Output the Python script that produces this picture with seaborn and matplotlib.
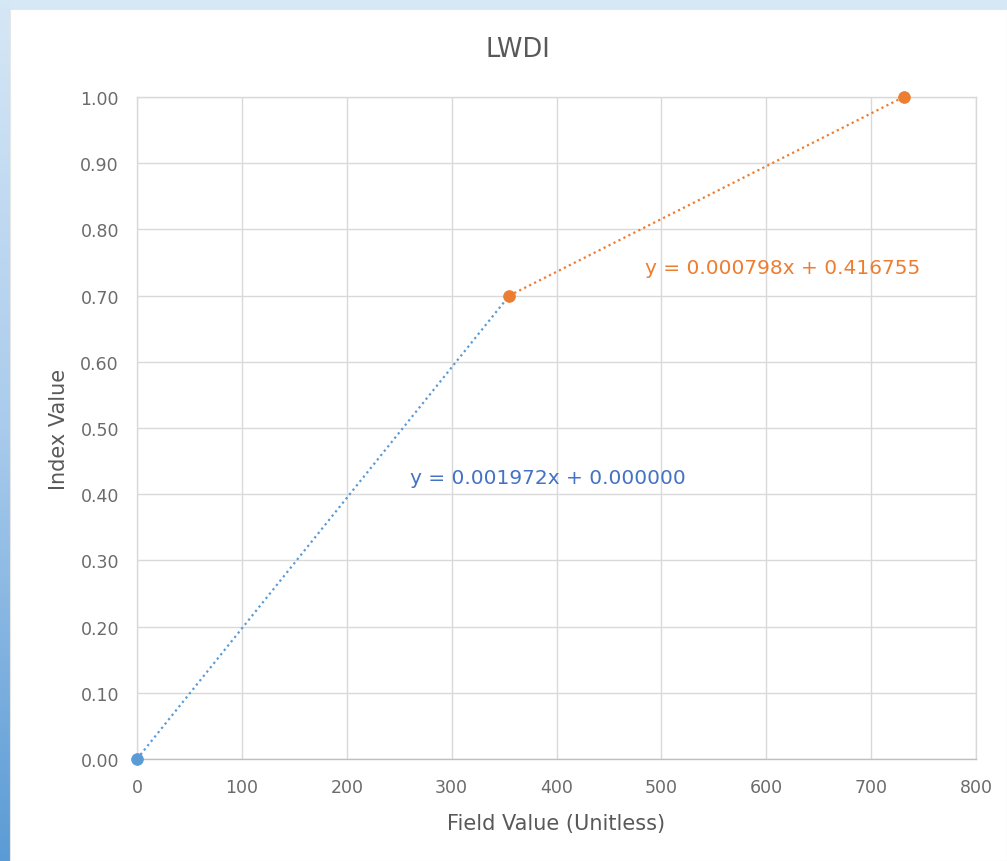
import numpy as np
import pandas as pd
import seaborn as sns
import matplotlib.pyplot as plt
from matplotlib.patches import Rectangle
from matplotlib.colors import LinearSegmentedColormap

# Breakpoints of the piecewise-linear LWDI index
seg1_field = [0, 355]
seg1_index = [0.00, 0.70]
seg2_field = [355, 731]
seg2_index = [0.70, 1.00]

eq1_label = "y = 0.001972x + 0.000000"
eq2_label = "y = 0.000798x + 0.416755"

x_ticks = [0, 100, 200, 300, 400, 500, 600, 700, 800]
y_ticks = [0.00, 0.10, 0.20, 0.30, 0.40, 0.50, 0.60, 0.70, 0.80, 0.90, 1.00]

BLUE = "#5b9bd5"
BLUE_TEXT = "#4472c4"
ORANGE = "#ed7d31"
GREY_TEXT = "#595959"
TICK_TEXT = "#6b6b6b"

sns.set_theme(style="white")
plt.rcParams["font.family"] = ["DejaVu Sans"]

W, H = 1007, 862
fig = plt.figure(figsize=(W / 100, H / 100), dpi=100)
fig.patch.set_facecolor("#d6e7f6")

# Frame: left gradient strip plus white chart card
bg = fig.add_axes([0, 0, 1, 1], zorder=-5)
bg.set_axis_off()
cmap = LinearSegmentedColormap.from_list("edge", ["#d6e7f6", "#a9cbec", "#5b9bd5"])
grad = np.linspace(0, 1, 256).reshape(-1, 1)
bg.imshow(grad, aspect="auto", cmap=cmap, extent=[0, 10, H, 0], origin="upper")
bg.add_patch(Rectangle((10, 10), W - 10, H - 10, facecolor="white",
                       edgecolor="#e6e6e6", lw=0.8))
bg.set_xlim(0, W)
bg.set_ylim(H, 0)

ax = fig.add_axes([137 / W, 1 - 760 / H, (976 - 137) / W, (760 - 98) / H], zorder=1)
ax.set_facecolor("white")

df1 = pd.DataFrame({"field": seg1_field, "index": seg1_index})
df2 = pd.DataFrame({"field": seg2_field, "index": seg2_index})

sns.lineplot(data=df1, x="field", y="index", ax=ax, color=BLUE, lw=1.6,
             linestyle=(0, (1, 1.5)), zorder=3)
sns.lineplot(data=df2, x="field", y="index", ax=ax, color=ORANGE, lw=1.6,
             linestyle=(0, (1, 1.5)), zorder=3)
sns.scatterplot(x=seg1_field[:1], y=seg1_index[:1], ax=ax, color=BLUE, s=70,
                edgecolor=BLUE, zorder=4, clip_on=False)
sns.scatterplot(x=seg2_field, y=seg2_index, ax=ax, color=ORANGE, s=70,
                edgecolor=ORANGE, zorder=4, clip_on=False)

ax.set_xlim(0, 800)
ax.set_ylim(0, 1.0)
ax.set_xticks(x_ticks)
ax.set_yticks(y_ticks)
ax.set_xticklabels([str(t) for t in x_ticks])
ax.set_yticklabels([f"{t:.2f}" for t in y_ticks])
ax.grid(True, color="#d9d9d9", lw=1.0)
ax.set_axisbelow(True)
for side in ["top", "right", "left"]:
    ax.spines[side].set_visible(True)
    ax.spines[side].set_color("#d9d9d9")
    ax.spines[side].set_linewidth(1.0)
ax.spines["bottom"].set_color("#bfbfbf")
ax.spines["bottom"].set_linewidth(1.0)
ax.tick_params(axis="x", length=0, labelsize=12.5, colors=TICK_TEXT, pad=14)
ax.tick_params(axis="y", length=0, labelsize=12.5, colors=TICK_TEXT, pad=13)

ax.set_xlabel("Field Value (Unitless)", fontsize=15, color=GREY_TEXT)
ax.set_ylabel("Index Value", fontsize=15, color=GREY_TEXT)
ax.xaxis.label.set_va("center")
ax.yaxis.label.set_va("center")
ax.xaxis.set_label_coords(0.5, -(824 - 760) / (760 - 98))
ax.yaxis.set_label_coords(-(137 - 59) / (976 - 137), 0.5)

ax.text(260, 0.425, eq1_label, color=BLUE_TEXT, fontsize=14.5, va="center", ha="left")
ax.text(484, 0.742, eq2_label, color=ORANGE, fontsize=14.5, va="center", ha="left")

fig.text(518 / W, 1 - 50 / H, "LWDI", ha="center", va="center",
         fontsize=18.5, color=GREY_TEXT)

fig.savefig("out.png", dpi=100)
